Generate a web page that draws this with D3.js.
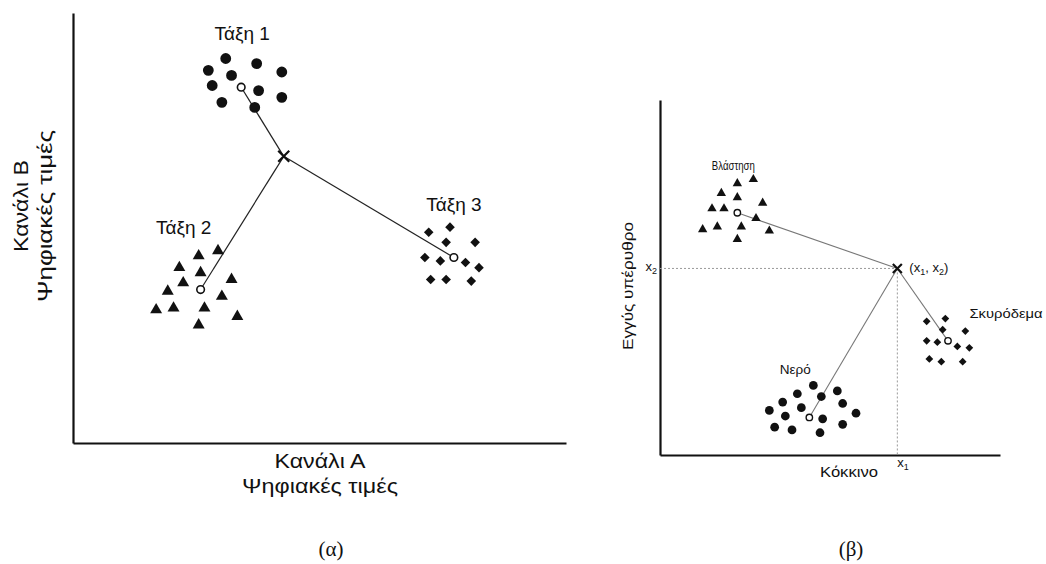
<!DOCTYPE html>
<html>
<head>
<meta charset="utf-8">
<script src="https://cdn.jsdelivr.net/npm/d3@7"></script>
<style>
  body { margin: 0; background: #fff; }
  text { font-family: 'Liberation Sans', Arial, sans-serif; fill: #111; }
  .serif { font-family: 'Liberation Serif', 'Times New Roman', serif; }
</style>
</head>
<body>
<script>
// ---- data (digital values 0-255) ----
// panel (a)
var classNamesA = ['Τάξη 1', 'Τάξη 2', 'Τάξη 3'];
var class1 = [[79,228],[95,225],[70,221],[82,218],[108,220],[72,212],[96,209],[108,205],[77,202],[94,199]];
var class2 = [[65,111],[75,114],[55,104],[66,101],[82,97],[49,90],[57,95],[77,87],[43,79],[52,80],[68,80],[85,75],[65,70]];
var class3 = [[184,125],[195,128],[193,119],[208,119],[182,110],[190,108],[203,107],[210,104],[185,97],[193,97],[206,96]];
var meansA = [[87,211],[66,91],[197,110]];
var pixelA = [109,170];
var axisLabelsA = ['Κανάλι Α', 'Κανάλι Β', 'Ψηφιακές τιμές'];

// panel (b)
var classNamesB = ['Βλάστηση', 'Νερό', 'Σκυρόδεμα'];
var vegetation = [[58,195],[70,198],[46,188],[58,185],[77,181],[39,177],[48,177],[72,170],[32,162],[43,164],[61,164],[82,161],[58,155]];
var water = [[115,50],[103,44],[133,46],[121,42],[92,38],[137,37],[106,34],[82,32],[94,28],[147,30],[122,26],[137,22],[86,20],[99,18],[120,16]];
var concrete = [[200,96],[214,98],[212,90],[229,89],[200,82],[208,81],[223,78],[232,77],[202,69],[211,67],[227,67]];
var meansB = [[58,174],[112,27],[216,82]];
var pixelB = [178,134];
var axisLabelsB = ['Κόκκινο', 'Εγγύς υπέρυθρο'];
var panelTags = ['(α)', '(β)'];

// ---- layout ----
var width = 1046, height = 564;
var svg = d3.select('body').append('svg').
  attr('width', width).
  attr('height', height);

var xA = d3.scaleLinear().domain([0, 255]).range([73, 566]);
var yA = d3.scaleLinear().domain([0, 255]).range([443, 13]);
var xB = d3.scaleLinear().domain([0, 255]).range([660, 1000]);
var yB = d3.scaleLinear().domain([0, 255]).range([455, 100]);

function drawAxes(x, y, x0, y0) {
  var ax = svg.append('g').attr('transform', 'translate(0,' + y0 + ')').
    call(d3.axisBottom(x).tickValues([]).tickSizeOuter(0));
  var ay = svg.append('g').attr('transform', 'translate(' + x0 + ',0)').
    call(d3.axisLeft(y).tickValues([]).tickSizeOuter(0));
  ax.select('.domain').attr('stroke', '#111').attr('stroke-width', 2.2);
  ay.select('.domain').attr('stroke', '#111').attr('stroke-width', 2.2);
}

function drawCluster(g, pts, shape, size, x, y, rot) {
  g.selectAll(null).data(pts).enter().append('path').
    attr('d', d3.symbol().type(shape).size(size)).
    attr('transform', function (d) {
      return 'translate(' + x(d[0]) + ',' + y(d[1]) + ')' + (rot ? ' rotate(45)' : '');
    }).
    attr('fill', '#111');
}

function drawCross(g, p, x, y, r, w) {
  var cx = x(p[0]), cy = y(p[1]);
  g.append('path').
    attr('d', 'M' + (cx - r) + ',' + (cy - r) + 'L' + (cx + r) + ',' + (cy + r) +
      'M' + (cx - r) + ',' + (cy + r) + 'L' + (cx + r) + ',' + (cy - r)).
    attr('stroke', '#111').attr('stroke-width', w);
}

// ---- panel (a) ----
drawAxes(xA, yA, xA(0), yA(0));
var gA = svg.append('g');

gA.selectAll('.linkA').data(meansA).enter().append('line').
  attr('x1', function (d) {return xA(d[0]);}).
  attr('y1', function (d) {return yA(d[1]);}).
  attr('x2', xA(pixelA[0])).
  attr('y2', yA(pixelA[1])).
  attr('stroke', '#222').attr('stroke-width', 1.2);

drawCluster(gA, class1, d3.symbolCircle, 92, xA, yA, false);
drawCluster(gA, class2, d3.symbolTriangle, 62, xA, yA, false);
drawCluster(gA, class3, d3.symbolSquare, 46, xA, yA, true);

gA.selectAll('.meanA').data(meansA).enter().append('circle').
  attr('cx', function (d) {return xA(d[0]);}).
  attr('cy', function (d) {return yA(d[1]);}).
  attr('r', 3.8).
  attr('fill', '#fff').attr('stroke', '#111').attr('stroke-width', 1.6);

drawCross(gA, pixelA, xA, yA, 5.5, 2.2);

var labelOffA = [[1, -54], [-17, -62], [0, -53]];
gA.selectAll('.nameA').data(classNamesA).enter().append('text').
  attr('x', function (d, i) {return xA(meansA[i][0]) + labelOffA[i][0];}).
  attr('y', function (d, i) {return yA(meansA[i][1]) + labelOffA[i][1];}).
  attr('dy', '0.36em').
  attr('text-anchor', 'middle').
  style('font-size', '19px').
  text(function (d) {return d;});

svg.append('text').attr('x', 320).attr('y', 468).attr('text-anchor', 'middle').
  attr('textLength', 91).attr('lengthAdjust', 'spacingAndGlyphs').
  style('font-size', '21px').text(axisLabelsA[0]);
svg.append('text').attr('x', 320).attr('y', 493).attr('text-anchor', 'middle').
  attr('textLength', 156).attr('lengthAdjust', 'spacingAndGlyphs').
  style('font-size', '21px').text(axisLabelsA[2]);
svg.append('text').attr('transform', 'translate(28,206) rotate(-90)').attr('text-anchor', 'middle').
  attr('textLength', 92).attr('lengthAdjust', 'spacingAndGlyphs').
  style('font-size', '21px').text(axisLabelsA[1]);
svg.append('text').attr('transform', 'translate(52,216) rotate(-90)').attr('text-anchor', 'middle').
  attr('textLength', 172).attr('lengthAdjust', 'spacingAndGlyphs').
  style('font-size', '21px').text(axisLabelsA[2]);

// ---- panel (b) ----
drawAxes(xB, yB, xB(0), yB(0));
var gB = svg.append('g');

// dotted guides to the axes
gB.append('line').
  attr('x1', xB(0)).attr('y1', yB(pixelB[1])).
  attr('x2', xB(pixelB[0])).attr('y2', yB(pixelB[1])).
  attr('stroke', '#999').attr('stroke-width', 1).attr('stroke-dasharray', '2,2');
gB.append('line').
  attr('x1', xB(pixelB[0])).attr('y1', yB(pixelB[1])).
  attr('x2', xB(pixelB[0])).attr('y2', yB(0)).
  attr('stroke', '#999').attr('stroke-width', 1).attr('stroke-dasharray', '2,2');

gB.selectAll('.linkB').data(meansB).enter().append('line').
  attr('x1', function (d) {return xB(d[0]);}).
  attr('y1', function (d) {return yB(d[1]);}).
  attr('x2', xB(pixelB[0])).
  attr('y2', yB(pixelB[1])).
  attr('stroke', '#777').attr('stroke-width', 1.1);

drawCluster(gB, vegetation, d3.symbolTriangle, 38, xB, yB, false);
drawCluster(gB, water, d3.symbolCircle, 60, xB, yB, false);
drawCluster(gB, concrete, d3.symbolSquare, 30, xB, yB, true);

gB.selectAll('.meanB').data(meansB).enter().append('circle').
  attr('cx', function (d) {return xB(d[0]);}).
  attr('cy', function (d) {return yB(d[1]);}).
  attr('r', 3.2).
  attr('fill', '#fff').attr('stroke', '#111').attr('stroke-width', 1.4);

drawCross(gB, pixelB, xB, yB, 4.5, 2.2);

var labelOffB = [[-4, -48], [-14, -48], [58, -28]];
var labelLenB = [43, 31, 73];
gB.selectAll('.nameB').data(classNamesB).enter().append('text').
  attr('x', function (d, i) {return xB(meansB[i][0]) + labelOffB[i][0];}).
  attr('y', function (d, i) {return yB(meansB[i][1]) + labelOffB[i][1];}).
  attr('dy', '0.36em').
  attr('text-anchor', 'middle').
  attr('textLength', function (d, i) {return labelLenB[i];}).
  attr('lengthAdjust', 'spacingAndGlyphs').
  style('font-size', '13.5px').
  text(function (d) {return d;});

// (x1, x2) label next to the pixel
var px = xB(pixelB[0]), py = yB(pixelB[1]);
var pl = gB.append('text').attr('x', px + 12).attr('y', py + 4).style('font-size', '13px');
pl.append('tspan').text('(x');
pl.append('tspan').attr('dy', 3).style('font-size', '9px').text('1');
pl.append('tspan').attr('dy', -3).text(', x');
pl.append('tspan').attr('dy', 3).style('font-size', '9px').text('2');
pl.append('tspan').attr('dy', -3).text(')');

var t1 = gB.append('text').attr('x', px).attr('y', yB(0) + 12).style('font-size', '13px');
t1.append('tspan').text('x');
t1.append('tspan').attr('dy', 3).style('font-size', '9px').text('1');

var t2 = gB.append('text').attr('x', xB(0) - 3).attr('y', py + 3).
  attr('text-anchor', 'end').style('font-size', '13px');
t2.append('tspan').text('x');
t2.append('tspan').attr('dy', 3).style('font-size', '9px').text('2');

svg.append('text').attr('x', 849).attr('y', 477).attr('text-anchor', 'middle').
  attr('textLength', 58).attr('lengthAdjust', 'spacingAndGlyphs').
  style('font-size', '14px').text(axisLabelsB[0]);
svg.append('text').attr('transform', 'translate(633,286) rotate(-90)').attr('text-anchor', 'middle').
  attr('textLength', 128).attr('lengthAdjust', 'spacingAndGlyphs').
  style('font-size', '14px').text(axisLabelsB[1]);

// panel tags
svg.selectAll('.tag').data(panelTags).enter().append('text').
  attr('class', 'serif').
  attr('x', function (d, i) {return i === 0 ? 331 : 851;}).
  attr('y', 556).
  attr('text-anchor', 'middle').
  style('font-size', '21px').
  text(function (d) {return d;});
</script>
</body>
</html>
